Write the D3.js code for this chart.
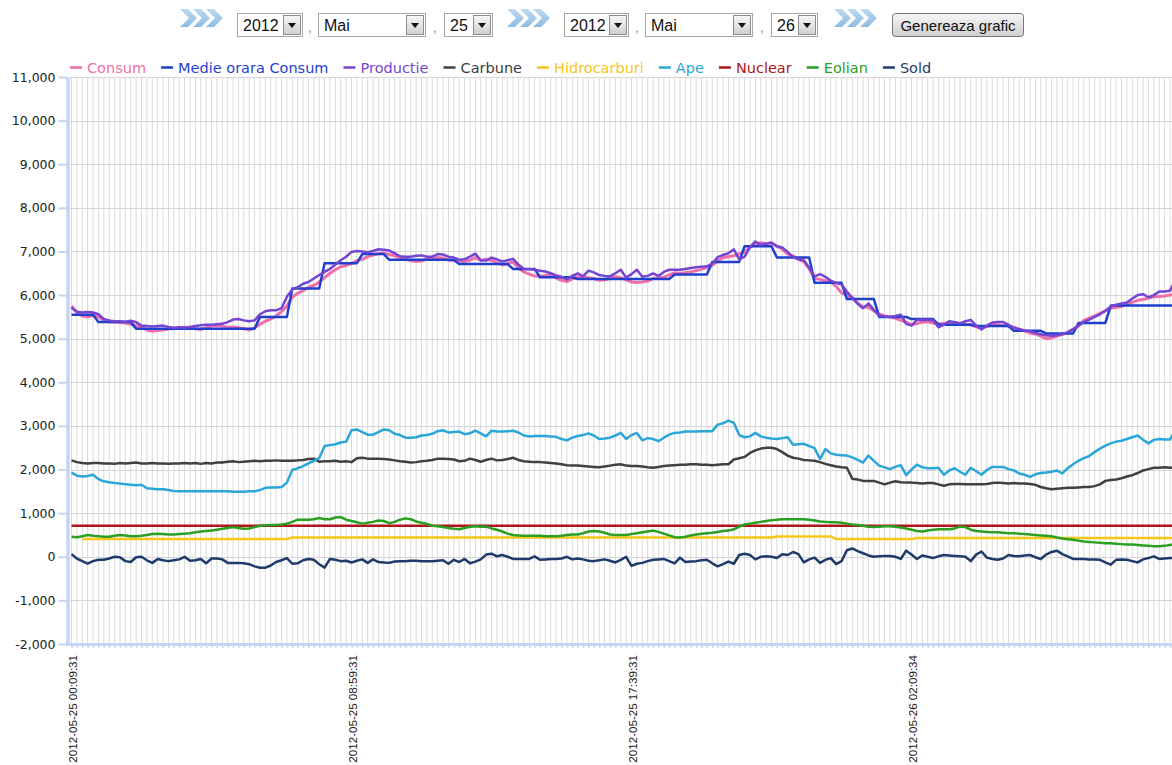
<!DOCTYPE html>
<html>
<head>
<meta charset="utf-8">
<script src="https://cdnjs.cloudflare.com/ajax/libs/d3/7.8.5/d3.min.js"></script>
<style>
  body { margin: 0; background: #fff; overflow: hidden; }
</style>
</head>
<body>
<div id="chart"></div>
<script>
// values, one per 10-minute sample
var consum = [5750,5600,5520,5500,5530,5500,5420,5380,5390,5370,
  5360,5330,5300,5260,5200,5170,5190,5200,5220,5230,
  5250,5260,5240,5230,5210,5250,5290,5300,5290,5260,
  5270,5250,5230,5200,5250,5330,5400,5450,5520,5620,
  5750,5950,6040,6100,6180,6220,6300,6400,6500,6580,
  6650,6680,6720,6790,6820,6880,6920,6950,6960,6930,
  6900,6860,6820,6790,6770,6780,6830,6860,6860,6850,
  6800,6790,6780,6770,6800,6860,6790,6820,6800,6740,
  6690,6720,6760,6620,6530,6480,6440,6430,6450,6470,
  6390,6340,6310,6370,6420,6430,6400,6380,6340,6350,
  6380,6420,6400,6350,6300,6290,6300,6320,6380,6400,
  6410,6460,6510,6500,6510,6530,6560,6590,6630,6680,
  6780,6860,6880,6900,6950,6980,7100,7150,7200,7180,
  7200,7120,7050,6940,6900,6820,6770,6600,6380,6360,
  6330,6300,6200,6050,6000,5950,5820,5730,5720,5640,
  5560,5520,5500,5470,5420,5380,5320,5350,5380,5390,
  5360,5340,5350,5360,5370,5350,5330,5320,5270,5250,
  5280,5320,5320,5300,5290,5260,5220,5180,5130,5110,
  5060,5000,5020,5060,5100,5140,5200,5290,5420,5470,
  5520,5580,5640,5700,5720,5740,5780,5840,5880,5900,
  5930,5960,5970,5980,6000,6020];

var medieOrara = [5550,5550,5550,5550,5550,5380,5380,5380,5380,5380,
  5380,5380,5230,5230,5230,5230,5230,5230,5230,5230,
  5230,5230,5230,5230,5230,5230,5230,5230,5230,5230,
  5230,5230,5230,5230,5230,5500,5500,5500,5500,5500,
  5500,6150,6150,6150,6150,6150,6150,6730,6730,6730,
  6730,6730,6730,6730,6940,6940,6940,6940,6940,6810,
  6810,6810,6810,6810,6810,6810,6810,6810,6810,6810,
  6810,6810,6710,6710,6710,6710,6710,6710,6710,6710,
  6710,6710,6600,6600,6600,6600,6600,6410,6410,6410,
  6410,6410,6410,6410,6370,6370,6370,6370,6370,6370,
  6370,6370,6370,6370,6370,6370,6370,6370,6370,6370,
  6370,6370,6470,6470,6470,6470,6470,6470,6470,6760,
  6760,6760,6760,6760,6760,7120,7120,7120,7120,7120,
  7120,6860,6860,6860,6860,6860,6860,6860,6280,6280,
  6280,6280,6280,6280,5910,5910,5910,5910,5910,5910,
  5500,5500,5500,5500,5500,5500,5450,5450,5450,5450,
  5450,5320,5320,5320,5320,5320,5320,5320,5290,5290,
  5290,5290,5290,5290,5290,5180,5180,5180,5180,5180,
  5180,5120,5120,5120,5120,5120,5120,5360,5360,5360,
  5360,5360,5360,5760,5760,5760,5760,5760,5760,5760,
  5760,5760,5760,5760,5760,5760];

var productie = [5710,5620,5600,5610,5600,5560,5450,5420,5400,5400,
  5390,5410,5380,5300,5290,5280,5290,5300,5270,5250,
  5260,5250,5270,5290,5310,5320,5320,5330,5340,5380,
  5440,5450,5420,5400,5420,5560,5630,5650,5650,5700,
  5960,6130,6180,6260,6300,6380,6460,6530,6600,6700,
  6800,6880,6990,7010,7000,6980,7010,7050,7040,7020,
  6960,6890,6880,6880,6900,6910,6880,6880,6940,6930,
  6880,6860,6810,6820,6880,6950,6800,6790,6860,6820,
  6770,6800,6830,6700,6600,6590,6580,6560,6540,6500,
  6450,6420,6360,6440,6500,6430,6560,6520,6460,6440,
  6430,6500,6580,6400,6480,6580,6420,6440,6500,6440,
  6530,6580,6580,6580,6600,6620,6640,6650,6660,6720,
  6870,6920,6960,7050,6820,6880,7100,7230,7150,7180,
  7200,7120,7090,6990,6870,6820,6800,6620,6430,6480,
  6420,6330,6280,6240,6080,5930,5800,5700,5810,5660,
  5530,5510,5500,5520,5550,5340,5300,5430,5430,5430,
  5420,5260,5320,5400,5380,5350,5400,5430,5300,5210,
  5300,5370,5380,5380,5320,5250,5220,5190,5170,5130,
  5100,5080,5070,5080,5100,5150,5220,5300,5380,5440,
  5500,5560,5640,5740,5780,5810,5830,5920,6000,6020,
  5950,6000,6080,6080,6100,6350];

var carbune = [2210,2170,2150,2140,2150,2150,2140,2140,2130,2150,
  2140,2150,2160,2140,2140,2150,2140,2140,2130,2140,
  2140,2150,2140,2150,2130,2150,2140,2160,2160,2180,
  2190,2170,2180,2190,2200,2190,2200,2200,2210,2200,
  2200,2200,2210,2220,2240,2250,2180,2190,2190,2200,
  2180,2190,2170,2260,2270,2250,2250,2250,2240,2230,
  2210,2190,2180,2160,2170,2190,2200,2220,2250,2250,
  2240,2230,2190,2200,2250,2220,2180,2220,2250,2210,
  2220,2240,2270,2220,2190,2180,2170,2170,2160,2150,
  2140,2120,2100,2090,2090,2080,2070,2060,2050,2070,
  2090,2110,2120,2090,2080,2080,2070,2050,2040,2060,
  2080,2090,2100,2110,2110,2120,2120,2110,2110,2100,
  2110,2120,2120,2230,2260,2290,2380,2440,2480,2500,
  2500,2470,2400,2320,2270,2250,2220,2210,2200,2170,
  2130,2100,2070,2050,2040,1790,1770,1740,1740,1740,
  1700,1660,1700,1730,1710,1700,1700,1690,1680,1690,
  1690,1660,1630,1660,1670,1670,1660,1660,1660,1660,
  1670,1690,1700,1690,1680,1690,1680,1680,1670,1650,
  1600,1570,1550,1560,1570,1580,1580,1590,1600,1600,
  1620,1660,1740,1760,1770,1800,1840,1870,1920,1980,
  2010,2040,2040,2050,2040,2050];

var hidrocarburi = [null,null,405,405,405,405,405,405,405,405,
  405,405,405,405,405,405,405,405,405,405,
  405,405,405,405,405,405,405,405,405,405,
  405,405,405,405,405,405,405,405,405,405,
  405,440,440,440,440,440,440,440,440,440,
  440,440,440,440,440,440,440,440,440,440,
  440,440,440,440,440,440,440,440,440,440,
  440,440,440,440,440,440,440,440,440,440,
  440,440,440,440,440,440,440,440,440,440,
  440,440,440,440,440,440,440,440,440,440,
  440,440,440,440,440,440,440,440,440,440,
  440,440,440,440,440,440,440,440,440,440,
  440,440,440,440,440,440,440,440,440,440,
  440,465,465,465,465,465,465,465,465,465,
  465,465,405,405,405,405,405,405,405,405,
  405,405,405,405,405,405,405,430,430,430,
  430,430,430,430,430,430,430,430,430,430,
  430,430,430,430,430,430,430,430,430,430,
  430,430,430,430,430,430,430,430,430,430,
  430,430,430,430,430,430,430,430,430,430,
  430,430,430,430,430,430];

var ape = [1930,1860,1840,1850,1880,1780,1730,1710,1690,1680,
  1660,1650,1640,1650,1570,1560,1550,1550,1530,1510,
  1500,1500,1500,1500,1500,1500,1500,1500,1500,1500,
  1490,1490,1490,1500,1500,1530,1580,1590,1590,1600,
  1700,1990,2030,2080,2140,2200,2260,2540,2560,2580,
  2620,2640,2900,2920,2860,2800,2800,2860,2920,2900,
  2820,2790,2730,2730,2740,2780,2790,2820,2880,2900,
  2850,2860,2870,2810,2830,2890,2830,2760,2890,2870,
  2870,2880,2890,2850,2780,2760,2770,2770,2770,2760,
  2750,2700,2670,2730,2770,2790,2830,2780,2700,2710,
  2730,2780,2840,2700,2790,2840,2670,2720,2700,2650,
  2730,2800,2840,2850,2870,2870,2870,2880,2880,2880,
  3030,3060,3120,3070,2790,2740,2760,2840,2760,2730,
  2710,2700,2720,2740,2570,2580,2590,2540,2490,2240,
  2470,2370,2340,2330,2320,2280,2220,2160,2320,2200,
  2090,2050,2010,2060,2100,1870,2000,2110,2050,2030,
  2030,2040,1880,1980,2030,1950,1880,2040,1960,1880,
  1990,2060,2060,2060,2010,1980,1910,1880,1830,1890,
  1920,1930,1950,1980,1910,2030,2120,2200,2260,2310,
  2400,2480,2550,2600,2640,2660,2700,2740,2780,2680,
  2600,2680,2700,2690,2690,2900];

var nuclear = [710,710,710,710,710,710,710,710,710,710,
  710,710,710,710,710,710,710,710,710,710,
  710,710,710,710,710,710,710,710,710,710,
  710,710,710,710,710,710,710,710,710,710,
  710,710,710,710,710,710,710,710,710,710,
  710,710,710,710,710,710,710,710,710,710,
  710,710,710,710,710,710,710,710,710,710,
  710,710,710,710,710,710,710,710,710,710,
  710,710,710,710,710,710,710,710,710,710,
  710,710,710,710,710,710,710,710,710,710,
  710,710,710,710,710,710,710,710,710,710,
  710,710,710,710,710,710,710,710,710,710,
  710,710,710,710,710,710,710,710,710,710,
  710,710,710,710,710,710,710,710,710,710,
  710,710,710,710,710,710,710,710,710,710,
  710,710,710,710,710,710,710,710,710,710,
  710,710,710,710,710,710,710,710,710,710,
  710,710,710,710,710,710,710,710,710,710,
  710,710,710,710,710,710,710,710,710,710,
  710,710,710,710,710,710,710,710,710,710,
  710,710,710,710,710,710];

var eolian = [460,450,470,500,480,470,460,460,480,500,
  490,470,470,480,500,520,530,520,510,510,
  520,530,540,560,580,590,600,620,640,660,
  680,660,640,650,680,710,720,730,730,740,
  760,800,850,850,850,860,890,860,860,900,
  910,850,820,790,760,780,800,830,820,770,
  800,850,880,860,810,780,750,710,700,680,
  660,640,630,660,690,700,690,690,650,620,
  580,530,500,490,480,480,480,480,470,470,
  470,480,500,510,510,540,580,590,580,550,
  510,500,500,500,520,540,560,580,600,570,
  530,490,450,440,460,490,510,530,540,550,
  570,590,600,630,690,740,760,780,800,820,
  840,850,860,860,860,860,860,850,830,810,
  800,790,790,780,760,740,730,710,690,680,
  690,700,700,690,670,650,620,590,580,600,
  620,630,630,630,650,690,680,620,590,580,
  570,560,560,550,540,540,530,520,510,500,
  490,480,470,440,420,400,390,370,350,340,
  330,320,310,310,300,290,280,280,270,260,
  250,240,240,250,270,290];

var sold = [60,-40,-100,-160,-100,-70,-70,-40,0,-10,
  -100,-120,-10,0,-80,-140,-50,-80,-100,-80,
  -60,0,-90,-80,-50,-150,-40,-40,-60,-140,
  -140,-140,-150,-170,-220,-250,-250,-200,-120,-80,
  -30,-160,-150,-80,-50,-70,-170,-250,-50,-70,
  -100,-90,-130,-90,-60,-140,-60,-120,-130,-140,
  -110,-100,-100,-90,-90,-100,-100,-100,-90,-80,
  -160,-70,-120,-50,-150,-110,-60,50,70,10,
  40,0,-50,-50,-50,-50,10,-70,-60,-50,
  -50,-40,0,-60,-40,-60,-90,-100,-80,-60,
  -90,-130,-70,0,-210,-160,-140,-100,-70,-60,
  -50,-100,-150,-20,-120,-110,-100,-80,-70,-150,
  -220,-170,-110,-160,40,70,40,-60,0,10,
  0,-30,60,40,110,60,-130,-60,-20,-140,
  -70,-30,-170,-100,150,190,130,80,30,0,
  10,20,20,0,-50,140,50,-50,30,0,
  -30,10,40,30,20,10,0,-100,50,120,
  -20,-50,-70,-40,40,20,10,30,40,-10,
  -50,50,110,140,60,10,-50,-50,-50,-60,
  -60,-70,-130,-180,-70,-60,-70,-100,-130,-60,
  -30,10,-50,-40,-30,-30];

var seriesNames = ["Consum", "Medie orara Consum", "Productie", "Carbune", "Hidrocarburi", "Ape", "Nuclear", "Eolian", "Sold"];
var seriesColors = ["#f06eaa", "#1f3fcf", "#7444d2", "#404040", "#f7c61a", "#2ba6d9", "#b0141c", "#2a9f22", "#1f3b6b"];
var seriesValues = [consum, medieOrara, productie, carbune, hidrocarburi, ape, nuclear, eolian, sold];

var xLabelIdx = [0, 52, 104, 156];
var xLabels = ["2012-05-25 00:09:31", "2012-05-25 08:59:31", "2012-05-25 17:39:31", "2012-05-26 02:09:34"];

var years = ["2012", "2012"], months = ["Mai", "Mai"], days = ["25", "26"];

var W = 1172, H = 765;
var N = consum.length;

var svg = d3.select("#chart").append("svg")
    .attr("width", W)
    .attr("height", H);

var defs = svg.append("defs");
var g1 = defs.append("linearGradient").attr("id", "btnGrad").attr("x1", 0).attr("y1", 0).attr("x2", 0).attr("y2", 1);
g1.append("stop").attr("offset", "0%").attr("stop-color", "#f7f7f7");
g1.append("stop").attr("offset", "100%").attr("stop-color", "#cfcfcf");
var g2 = defs.append("linearGradient").attr("id", "chevGrad").attr("x1", 0).attr("y1", 0).attr("x2", 0).attr("y2", 1);
g2.append("stop").attr("offset", "0%").attr("stop-color", "#bcd9f0");
g2.append("stop").attr("offset", "100%").attr("stop-color", "#8dbbe2");

// ---- top controls ----
var ctl = svg.append("g").attr("class", "controls");

function chevrons(x) {
    for (var k = 0; k < 3; k++) {
        var cx = x + k * 13;
        ctl.append("path")
            .attr("d", "M" + cx + ",9 L" + (cx + 8) + ",9 L" + (cx + 17) + ",18 L" + (cx + 8) + ",27 L" + cx + ",27 L" + (cx + 9) + ",18 Z")
            .attr("fill", "url(#chevGrad)");
    }
}

function selectBox(x, w, label) {
    var b = ctl.append("g").attr("transform", "translate(" + x + ",13)");
    b.append("rect").attr("x", 0.5).attr("y", 0.5).attr("width", w).attr("height", 23)
        .attr("fill", "#fff").attr("stroke", "#a7a7a7");
    b.append("rect").attr("x", w - 18.5).attr("y", 2.5).attr("width", 17).attr("height", 19)
        .attr("fill", "url(#btnGrad)").attr("stroke", "#8d8d8d");
    b.append("path").attr("d", "M" + (w - 14) + ",10 h8 l-4,5 z").attr("fill", "#111");
    b.append("text").attr("x", 6).attr("y", 18).text(label)
        .style("font-family", "'Liberation Sans', Arial, sans-serif").style("font-size", "16px").attr("fill", "#111");
}

function comma(x) {
    ctl.append("text").attr("x", x).attr("y", 32).text(",")
        .style("font-family", "'Liberation Sans', Arial, sans-serif").style("font-size", "14px").attr("fill", "#999");
}

chevrons(180);
selectBox(237, 65, years[0]); comma(308);
selectBox(318, 107, months[0]); comma(433);
selectBox(444, 48, days[0]);
chevrons(507);
selectBox(564, 64, years[1]); comma(635);
selectBox(645, 107, months[1]); comma(760);
selectBox(771, 46, days[1]);
chevrons(834);

var btn = ctl.append("g").attr("transform", "translate(892,13)");
btn.append("rect").attr("x", 0.5).attr("y", 0.5).attr("width", 131).attr("height", 23).attr("rx", 3)
    .attr("fill", "url(#btnGrad)").attr("stroke", "#767676");
btn.append("text").attr("x", 66).attr("y", 18).attr("text-anchor", "middle").text("Genereaza grafic")
    .style("font-family", "'Liberation Sans', Arial, sans-serif").style("font-size", "15px").attr("fill", "#111");

// ---- scales ----
var x = d3.scaleLinear().domain([0, 204]).range([71.5, 1170]);
var y = d3.scaleLinear().domain([-2000, 11000]).range([644, 77]);

var fmt = d3.formatLocale({decimal: ".", thousands: ",", grouping: [3], currency: ["", ""], minus: "-"}).format(",");
var axisColor = "#c4d5f5";

// grid
var grid = svg.append("g").attr("class", "grid");
grid.selectAll(".vgrid")
    .data(d3.range(N))
    .enter().append("line")
    .attr("class", "vgrid")
    .attr("x1", function(d) { return x(d); })
    .attr("x2", function(d) { return x(d); })
    .attr("y1", 77).attr("y2", 643)
    .attr("stroke", "#dadada").attr("stroke-width", 1);

grid.selectAll(".hgrid")
    .data(y.ticks(13))
    .enter().append("line")
    .attr("class", "hgrid")
    .attr("x1", 69).attr("x2", W)
    .attr("y1", function(d) { return Math.round(y(d)) + 0.5; })
    .attr("y2", function(d) { return Math.round(y(d)) + 0.5; })
    .attr("stroke", "#d6d6d6").attr("stroke-width", 1);

// y axis
var yAxis = d3.axisLeft(y)
    .tickValues(y.ticks(13))
    .tickSize(9)
    .tickSizeOuter(0)
    .tickPadding(3)
    .tickFormat(fmt);

var yg = svg.append("g").attr("class", "y-axis").attr("transform", "translate(67.5,0)").call(yAxis);
yg.select(".domain").attr("stroke", axisColor).attr("stroke-width", 3.5);
yg.selectAll(".tick line").attr("stroke", axisColor).attr("stroke-width", 2);
yg.selectAll(".tick text")
    .style("font-family", "'DejaVu Sans', Verdana, sans-serif")
    .style("font-size", "12.5px")
    .attr("fill", "#222");

// x axis
var xAxis = d3.axisBottom(x)
    .tickValues(d3.range(N))
    .tickSize(4)
    .tickSizeOuter(0)
    .tickFormat("");

var xg = svg.append("g").attr("class", "x-axis").attr("transform", "translate(0,644)").call(xAxis);
xg.select(".domain").remove();
xg.selectAll(".tick line").attr("stroke", axisColor).attr("stroke-width", 1.5);
svg.append("line")
    .attr("x1", 66).attr("x2", W)
    .attr("y1", 644.5).attr("y2", 644.5)
    .attr("stroke", axisColor).attr("stroke-width", 3);

svg.selectAll(".xlabel")
    .data(xLabelIdx)
    .enter().append("text")
    .attr("class", "xlabel")
    .attr("transform", function(d) { return "translate(" + (x(d) + 5.5) + ",655) rotate(-90)"; })
    .attr("text-anchor", "end")
    .text(function(d, i) { return xLabels[i]; })
    .style("font-family", "'Liberation Sans', Arial, sans-serif")
    .style("font-size", "11.6px")
    .attr("fill", "#222");

// lines
var line = d3.line()
    .defined(function(d) { return d != null; })
    .x(function(d, i) { return x(i); })
    .y(function(d) { return y(d); });

svg.selectAll(".series")
    .data(seriesValues)
    .enter().append("path")
    .attr("class", "series")
    .attr("d", line)
    .attr("fill", "none")
    .attr("stroke", function(d, i) { return seriesColors[i]; })
    .attr("stroke-width", function(d, i) { return i === 0 ? 3 : 2.5; })
    .attr("stroke-linejoin", "round");

// legend
var legend = svg.append("g").attr("class", "legend");
var lx = 70;
seriesNames.forEach(function(name, i) {
    legend.append("line")
        .attr("x1", lx).attr("x2", lx + 12)
        .attr("y1", 67.5).attr("y2", 67.5)
        .attr("stroke", seriesColors[i]).attr("stroke-width", 2.5);
    var t = legend.append("text")
        .attr("x", lx + 17).attr("y", 72.5)
        .text(name)
        .style("font-family", "'DejaVu Sans', Verdana, sans-serif")
        .style("font-size", "14.5px")
        .attr("fill", seriesColors[i]);
    lx = lx + 17 + t.node().getComputedTextLength() + 15;
});
</script>
</body>
</html>
